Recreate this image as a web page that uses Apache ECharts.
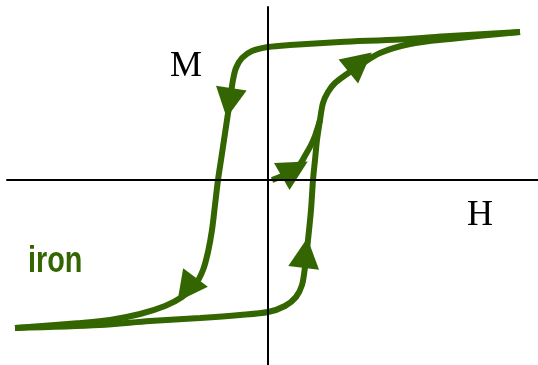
<!DOCTYPE html>
<html>
<head>
<meta charset="utf-8">
<script src="https://cdn.jsdelivr.net/npm/echarts@6/dist/echarts.min.js"></script>
<style>html,body{margin:0;padding:0;background:#fff}#c{width:538px;height:365px}</style>
</head>
<body>
<div id="c"></div>
<script>
// Hysteresis loop of iron (H, M in arbitrary units)
var descH = [252,182,132,72,22,0,-16,-26,-32,-35,-38,-41,-44,-47,-50,-53,-56,-60,-65,-73,-86,-103,-128,-158,-188,-253];
var descM = [148,144,140.5,138,135,133,129,122,112,100,80,60,40,20,0,-25,-50,-72,-90,-105,-117,-126,-134,-140,-143,-148];
var ascH  = [-253,-168,-118,-68,-28,0,17,28,34,37,40,43,45,47,49,52,55,60,67,79,92,112,142,182,252];
var ascM  = [-148,-145,-141,-138,-135,-132,-126,-117,-105,-87,-60,-30,0,20,40,60,77,88,97,106,115,127,136,141,148];
var initH = [4,14,24,32,38,43,47,49,52];
var initM = [0,4,9,16,26,35,44,50,60];
var arrowH = [-39,-81.5,37.5,92,26.75];
var arrowM = [77,-109.5,-73,118,11];
var arrowDir = [171,143,-7,-51,-60];
var labels = {M:'M', H:'H', name:'iron'};

var green = '#336600';
function pairs(a,b){return a.map(function(v,i){return [v,b[i]];});}
var arrows = arrowH.map(function(h,i){return {value:[h,arrowM[i]], symbolRotate:arrowDir[i]};});

var chart = echarts.init(document.getElementById('c'));
var lineStyle = {color:green, width:6, cap:'butt'};
chart.setOption({
  animation:false,
  grid:{left:7,right:0,top:7,bottom:0,containLabel:false},
  xAxis:{type:'value',min:-261,max:270,z:5,
    axisLine:{show:true,onZero:true,lineStyle:{color:'#000',width:2}},
    axisTick:{show:false},axisLabel:{show:false},splitLine:{show:false}},
  yAxis:{type:'value',min:-185,max:173,z:5,
    axisLine:{show:true,onZero:true,lineStyle:{color:'#000',width:2}},
    axisTick:{show:false},axisLabel:{show:false},splitLine:{show:false}},
  series:[
    {type:'line',data:pairs(descH,descM),showSymbol:false,smooth:0.3,lineStyle:lineStyle,z:2},
    {type:'line',data:pairs(ascH,ascM),showSymbol:false,smooth:0.3,lineStyle:lineStyle,z:2},
    {type:'line',data:pairs(initH,initM),showSymbol:false,smooth:0.3,lineStyle:lineStyle,z:2},
    {type:'scatter',data:arrows,symbol:'triangle',symbolSize:[31,30],
      itemStyle:{color:green,opacity:1},z:3}
  ],
  graphic:[
    {type:'text',left:170,top:49,style:{text:labels.M,font:'36px "Liberation Serif"',fill:'#000'}},
    {type:'text',left:467,top:198,style:{text:labels.H,font:'36px "Liberation Serif"',fill:'#000'}},
    {type:'text',x:28,y:244,scaleX:0.8,style:{text:labels.name,font:'bold 36px "Liberation Sans"',fill:green}}
  ]
});
</script>
</body>
</html>
